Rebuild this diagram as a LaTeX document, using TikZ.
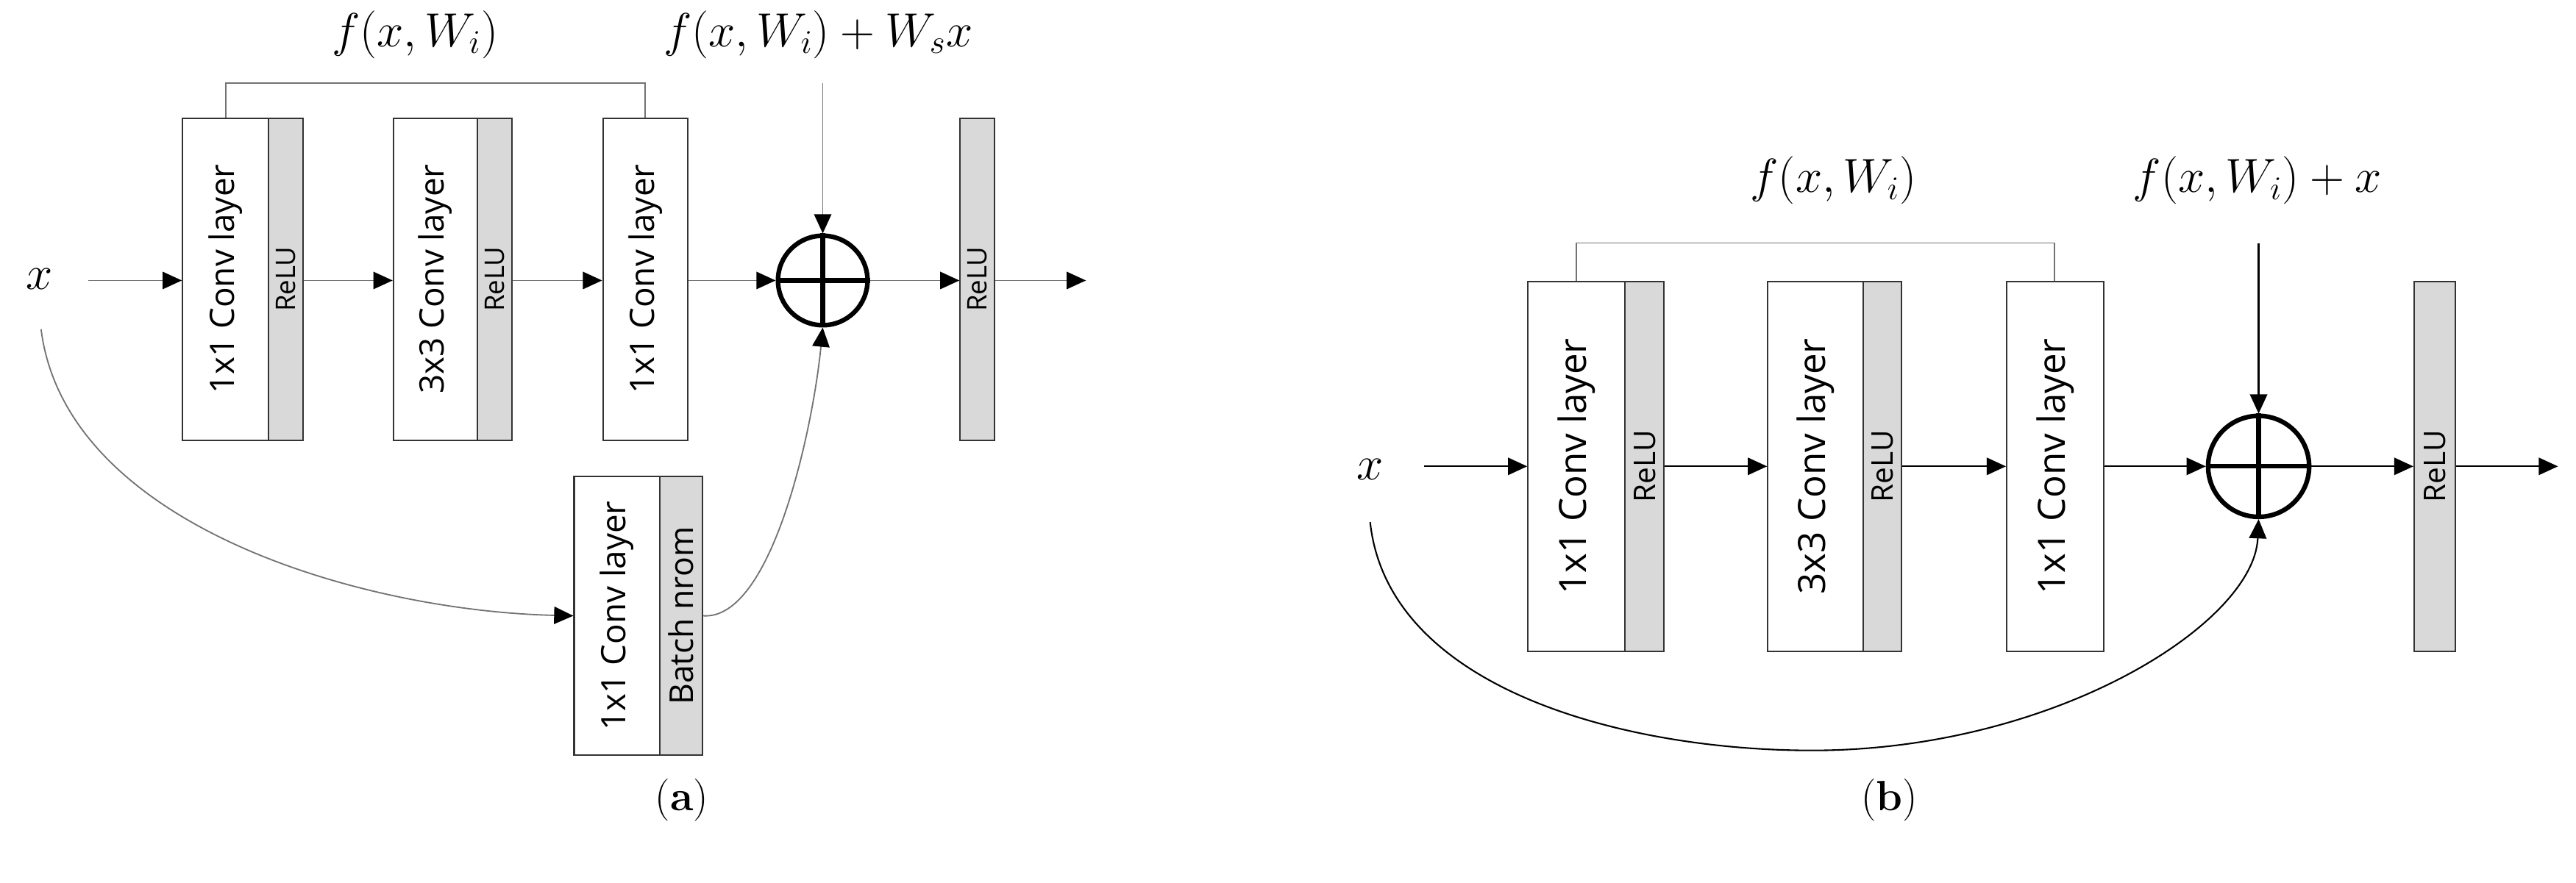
\documentclass[tikz,border=0pt]{standalone}
\usepackage{fontspec}
\setsansfont{Open Sans}
\usetikzlibrary{arrows.meta}
\begin{document}
\begin{tikzpicture}[x=0.03cm,y=-0.03cm,
  wbox/.style={draw=black!80,fill=white,line width=0.8pt,inner sep=0pt,minimum width=#1*0.03cm},
  gbox/.style={draw=black!80,fill=black!15,line width=0.8pt,inner sep=0pt,minimum width=#1*0.03cm},
  ha/.style={minimum height=196*0.03cm},
  hb/.style={minimum height=225*0.03cm},
  hl/.style={minimum height=169.5*0.03cm},
  conv/.style={font=\sffamily\fontsize{#1}{#1}\selectfont},
  arr/.style={-{Triangle[length=10pt,width=9pt,color=black]}},
  plus/.style={circle,draw,line width=2.4pt,inner sep=0pt,minimum size=#1*0.03cm},
  lbl/.style={font=\fontsize{25}{25}\selectfont},
]
\useasboundingbox (0,0) rectangle (1568,537.3);
% ---------- panel (a)
\node[font=\fontsize{52}{52}\selectfont] (xa) at (24,170) {$x$};
\coordinate (xas) at (53.7,170.8);
\node[wbox=52.3,ha,anchor=west] (a1) at (110.7,170) {};
\node[gbox=21,ha,anchor=west] (a1r) at (163,170) {};
\node[wbox=51,ha,anchor=west] (a2) at (239,170) {};
\node[gbox=21,ha,anchor=west] (a2r) at (290,170) {};
\node[wbox=51.5,ha,anchor=west] (a3) at (366.5,170) {};
\node[gbox=21,ha,anchor=west] (ar) at (584,170) {};
\node[plus=54.5] (pa) at (500.8,170.8) {};
\draw[line width=2.4pt] (pa.north)--(pa.south) (pa.west)--(pa.east);
\node[wbox=52,hl,anchor=west] (al) at (349,375) {};
\node[gbox=26,hl,anchor=west] (alr) at (401,375) {};
\node[conv=17.5,rotate=90] at (a1) {1x1 Conv layer};
\node[conv=17.5,rotate=90] at (a2) {3x3 Conv layer};
\node[conv=17.5,rotate=90] at (a3) {1x1 Conv layer};
\node[conv=14,rotate=90] at (a1r) {ReLU};
\node[conv=14,rotate=90] at (a2r) {ReLU};
\node[conv=14,rotate=90] at (ar) {ReLU};
\node[conv=17.5,rotate=90] at (al) {1x1 Conv layer};
\node[conv=17,rotate=90] at (alr) {Batch nrom};
\coordinate (aend) at (661,170.8);
\coordinate (atop) at (500.8,50.5);
\begin{scope}[black!55,line width=0.7pt]
\draw[arr] (xas) -- (a1.west|-xas);
\draw[arr] (a1r.east|-xas) -- (a2.west|-xas);
\draw[arr] (a2r.east|-xas) -- (a3.west|-xas);
\draw[arr] (a3.east|-xas) -- (pa.west);
\draw[arr] (pa.east) -- (ar.west|-xas);
\draw[arr] (ar.east|-xas) -- (aend);
\draw[arr] (atop) -- (pa.north);
\draw (a1.north-|137.3,0) -- (137.3,50.5) -- (392.6,50.5) -- (a3.north-|392.6,0);
\draw[arr] (25,200.5) .. controls (40,320) and (220,372) .. (al.west);
\draw[arr] (alr.east) .. controls (470,378) and (495,260) .. (pa.south);
\end{scope}
\node[lbl] at (252.6,21) {$f(x,W_i)$};
\node[lbl] at (498,21) {$f(x,W_i)+W_s x$};
\node[font=\fontsize{22}{22}\selectfont] at (415,487) {(\textbf{a})};
% ---------- panel (b)
\node[font=\fontsize{52}{52}\selectfont] (xb) at (834,286) {$x$};
\coordinate (xbs) at (867,284);
\node[wbox=59,hb,anchor=west] (b1) at (929.6,284) {};
\node[gbox=23.8,hb,anchor=west] (b1r) at (988.7,284) {};
\node[wbox=58,hb,anchor=west] (b2) at (1075.6,284) {};
\node[gbox=23.4,hb,anchor=west] (b2r) at (1133.6,284) {};
\node[wbox=59,hb,anchor=west] (b3) at (1221,284) {};
\node[gbox=25,hb,anchor=west] (br) at (1469,284) {};
\node[plus=61.5] (pb) at (1374.8,284) {};
\draw[line width=2.4pt] (pb.north)--(pb.south) (pb.west)--(pb.east);
\node[conv=19.5,rotate=90] at (b1) {1x1 Conv layer};
\node[conv=19.5,rotate=90] at (b2) {3x3 Conv layer};
\node[conv=19.5,rotate=90] at (b3) {1x1 Conv layer};
\node[conv=15.5,rotate=90] at (b1r) {ReLU};
\node[conv=15.5,rotate=90] at (b2r) {ReLU};
\node[conv=15.5,rotate=90] at (br) {ReLU};
\coordinate (bend) at (1557,284);
\coordinate (btop) at (1374.8,148);
\begin{scope}[black,line width=0.8pt]
\draw[arr] (xbs) -- (b1.west|-xbs);
\draw[arr] (b1r.east|-xbs) -- (b2.west|-xbs);
\draw[arr] (b2r.east|-xbs) -- (b3.west|-xbs);
\draw[arr] (b3.east|-xbs) -- (pb.west);
\draw[arr] (pb.east) -- (br.west|-xbs);
\draw[arr] (br.east|-xbs) -- (bend);
\draw[arr] (btop) -- (pb.north);
\end{scope}
\draw[black!55,line width=0.7pt] (b1.north-|959.6,0) -- (959.6,148) -- (1250.6,148) -- (b3.north-|1250.6,0);
\draw[arr,line width=0.8pt] (834,318) .. controls (845,420) and (990,457) .. (1103,457) .. controls (1250,457) and (1372,380) .. (pb.south);
\node[lbl] at (1116,110) {$f(x,W_i)$};
\node[lbl] at (1374,110) {$f(x,W_i)+x$};
\node[font=\fontsize{22}{22}\selectfont] at (1150,487) {(\textbf{b})};
\end{tikzpicture}
\end{document}
